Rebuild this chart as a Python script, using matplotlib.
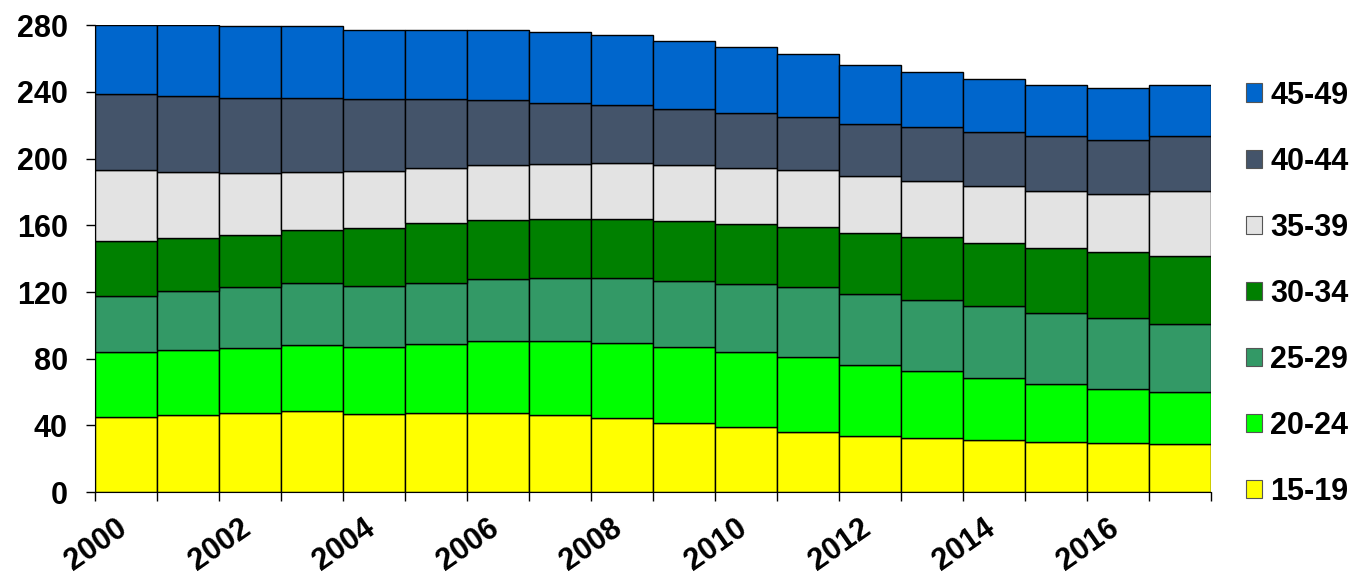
import numpy as np
import matplotlib.pyplot as plt
import matplotlib.transforms as mtransforms
from matplotlib.patches import Patch

plt.rcParams['font.family'] = ['Liberation Sans', 'DejaVu Sans']
plt.rcParams['font.weight'] = 'bold'

# Donnees (en milliers)
years = list(range(2000, 2018))
age_groups = ["15-19", "20-24", "25-29", "30-34", "35-39", "40-44", "45-49"]
colors = ["#FFFF00", "#00FF00", "#339966", "#008000", "#E3E3E3", "#44546A", "#0066CC"]

v15_19 = [45.2, 46.0, 47.6, 48.4, 47.0, 47.2, 47.4, 46.4, 44.2, 41.6, 39.2, 36.2, 33.6, 32.2, 31.0, 29.8, 29.2, 28.6]
v20_24 = [38.6, 39.2, 38.6, 39.6, 40.0, 41.6, 43.0, 44.2, 45.2, 45.2, 44.8, 45.0, 42.6, 40.2, 37.2, 34.8, 32.6, 31.4]
v25_29 = [34.0, 35.2, 36.6, 37.2, 36.8, 36.8, 37.4, 37.8, 39.0, 39.8, 41.0, 41.8, 42.4, 42.8, 43.2, 42.8, 42.4, 40.8]
v30_34 = [32.8, 31.8, 31.2, 32.0, 34.8, 35.6, 35.6, 35.6, 35.4, 35.8, 35.8, 36.0, 36.6, 37.6, 38.2, 39.0, 40.0, 41.0]
v35_39 = [42.8, 39.8, 37.2, 34.6, 34.2, 33.2, 32.8, 32.8, 33.4, 33.6, 33.8, 34.0, 34.2, 34.0, 33.8, 34.2, 34.6, 39.0]
v40_44 = [45.4, 45.6, 45.4, 44.6, 43.2, 41.4, 39.0, 36.6, 34.8, 33.6, 32.6, 32.2, 31.6, 32.2, 32.4, 32.8, 32.4, 32.8]
v45_49 = [41.2, 42.4, 42.8, 43.0, 41.2, 41.2, 42.0, 42.4, 42.2, 41.0, 39.8, 37.6, 35.4, 33.2, 32.2, 31.0, 31.0, 30.4]

series = [v15_19, v20_24, v25_29, v30_34, v35_39, v40_44, v45_49]

fig = plt.figure(figsize=(13.55, 5.77), dpi=100)
ax = fig.add_axes([0.0701, 0.1473, 0.8236, 0.8088])

bottom = np.zeros(len(years))
for vals, col, lab in zip(series, colors, age_groups):
    ax.bar(years, vals, width=1.0, bottom=bottom, color=col, edgecolor="black",
           linewidth=1.0, label=lab)
    bottom += np.array(vals)

ax.set_xlim(years[0] - 0.5, years[-1] + 0.5)
ax.set_ylim(0, 280)
ax.set_yticks(np.arange(0, 281, 40))
ax.tick_params(axis="y", labelsize=22, length=6.5, width=1, pad=13)

# traits aux bords des barres, etiquettes au centre une annee sur deux
ax.set_xticks(np.arange(years[0] - 0.5, years[-1] + 1.0, 1.0))
ax.set_xticklabels([])
ax.tick_params(axis="x", which="major", length=6.5, width=1)
ax.set_xticks(years[::2], minor=True)
ax.set_xticklabels([str(y) for y in years[::2]], minor=True, rotation=35,
                   ha="right", va="top", rotation_mode="anchor", fontsize=22)
ax.tick_params(axis="x", which="minor", length=0, pad=15)
shift = mtransforms.ScaledTranslation(-11 / 100, 0, fig.dpi_scale_trans)
for lbl in ax.get_xticklabels(minor=True):
    lbl.set_transform(lbl.get_transform() + shift)

for s in ["top", "right"]:
    ax.spines[s].set_visible(False)

handles = [Patch(facecolor=c, edgecolor="#555555", linewidth=0.8) for c in colors]
leg = ax.legend(handles[::-1], age_groups[::-1], loc="center left",
                bbox_to_anchor=(1.02, 0.425), borderaxespad=0, frameon=False,
                fontsize=22, handlelength=0.55, handleheight=0.55,
                handletextpad=0.26, labelspacing=1.18)

fig.savefig("out.png", dpi=100)
